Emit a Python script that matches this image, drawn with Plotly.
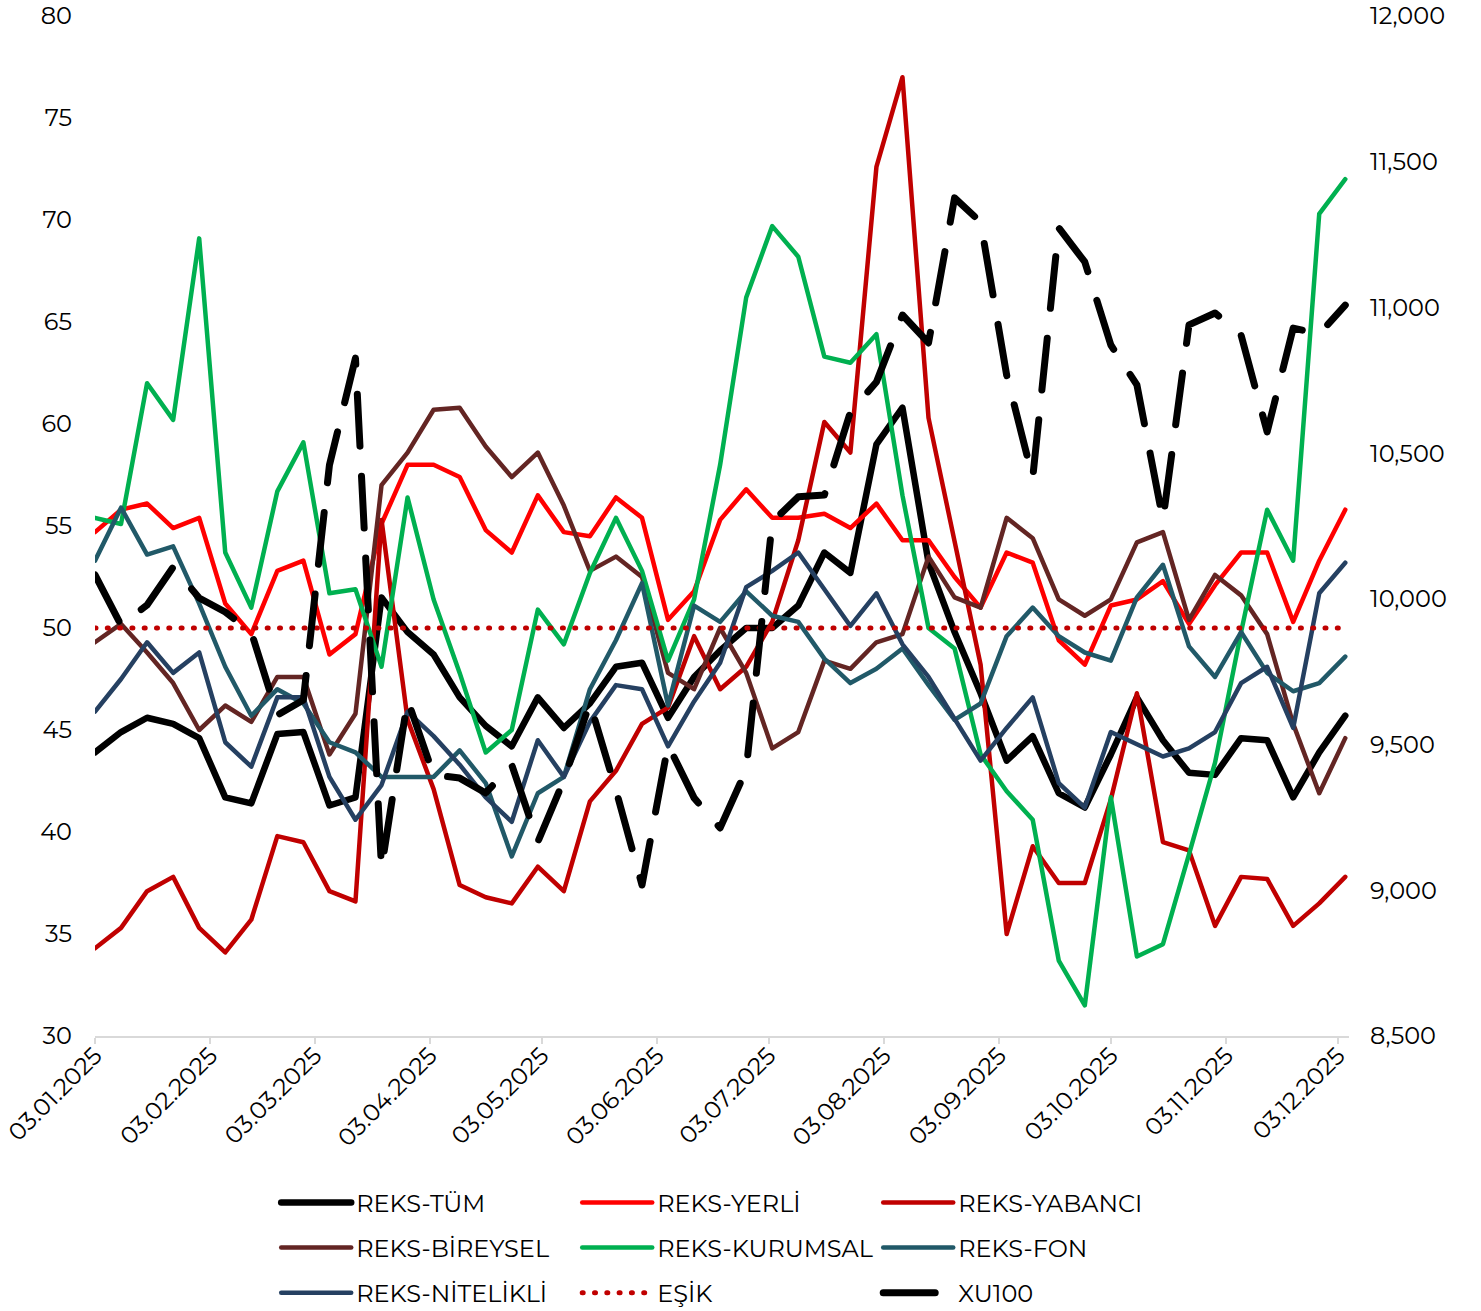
import plotly.graph_objects as go

dates = ["2025-01-03","2025-01-10","2025-01-17","2025-01-24","2025-01-31",
         "2025-02-07","2025-02-14","2025-02-21","2025-02-28",
         "2025-03-07","2025-03-14","2025-03-21","2025-03-28",
         "2025-04-04","2025-04-11","2025-04-18","2025-04-25",
         "2025-05-02","2025-05-09","2025-05-16","2025-05-23","2025-05-30",
         "2025-06-06","2025-06-13","2025-06-20","2025-06-27",
         "2025-07-04","2025-07-11","2025-07-18","2025-07-25",
         "2025-08-01","2025-08-08","2025-08-15","2025-08-22","2025-08-29",
         "2025-09-05","2025-09-12","2025-09-19","2025-09-26",
         "2025-10-03","2025-10-10","2025-10-17","2025-10-24","2025-10-31",
         "2025-11-07","2025-11-14","2025-11-21","2025-11-28",
         "2025-12-05"]

reks_tum = [43.9,44.9,45.6,45.3,44.6,41.7,41.4,44.8,44.9,41.3,41.7,51.5,49.8,48.7,46.6,45.2,44.2,
            46.6,45.1,46.3,48.1,48.3,45.6,47.6,48.9,50.0,50.0,51.1,53.7,52.7,59.0,60.8,53.2,
            49.8,46.8,43.5,44.7,41.9,41.2,43.8,46.6,44.5,42.9,42.8,44.6,44.5,41.7,43.9,45.7]
reks_yerli = [54.7,55.8,56.1,54.9,55.4,51.2,49.7,52.8,53.3,48.7,49.7,55.1,58.0,58.0,57.4,54.8,53.7,
              56.5,54.7,54.5,56.4,55.4,50.4,51.8,55.3,56.8,55.4,55.4,55.6,54.9,56.1,54.3,54.3,
              52.5,51.0,53.7,53.2,49.4,48.2,51.1,51.4,52.3,50.2,52.1,53.7,53.7,50.3,53.3,55.8]
reks_yabanci = [34.3,35.3,37.1,37.8,35.3,34.1,35.7,39.8,39.5,37.1,36.6,55.3,45.5,42.1,37.4,36.8,36.5,
                38.3,37.1,41.5,43.0,45.3,46.1,49.6,47.0,48.1,50.3,54.3,60.1,58.6,72.6,77.0,60.3,
                54.3,48.2,35.0,39.3,37.5,37.5,41.6,46.8,39.5,39.1,35.4,37.8,37.7,35.4,36.5,37.8]
reks_bireysel = [49.3,50.2,48.8,47.3,45.0,46.2,45.4,47.6,47.6,43.8,45.8,57.0,58.6,60.7,60.8,58.9,57.4,
                 58.6,56.0,52.8,53.5,52.5,47.8,47.0,50.0,47.8,44.1,44.9,48.4,48.0,49.3,49.7,53.5,
                 51.5,51.0,55.4,54.4,51.4,50.6,51.4,54.2,54.7,50.4,52.6,51.6,49.7,45.3,41.9,44.6]
reks_kurumsal = [55.4,55.1,62.0,60.2,69.1,53.7,51.0,56.7,59.1,51.7,51.9,48.1,56.4,51.4,47.8,43.9,45.0,
                 50.9,49.2,52.7,55.4,52.8,48.4,51.4,58.0,66.2,69.7,68.2,63.3,63.0,64.4,56.5,50.0,
                 49.0,43.8,42.0,40.6,33.7,31.5,41.7,33.9,34.5,38.9,43.4,49.8,55.8,53.3,70.3,72.0]
reks_fon = [53.3,55.9,53.6,54.0,51.2,48.1,45.7,47.0,46.3,44.4,43.9,42.7,42.7,42.7,44.0,42.4,38.8,
            41.9,42.7,47.0,49.4,52.2,46.2,51.1,50.3,51.8,50.6,50.3,48.5,47.3,48.0,49.0,47.2,
            45.5,46.3,49.6,51.0,49.6,48.8,48.4,51.5,53.1,49.1,47.6,49.8,47.8,46.9,47.3,48.6]
reks_nitelikli = [45.9,47.5,49.3,47.8,48.8,44.4,43.2,46.6,46.6,42.7,40.6,42.3,45.9,44.7,43.3,41.7,40.5,
                  44.5,42.7,45.4,47.2,47.0,44.2,46.4,48.3,52.0,52.8,53.7,51.9,50.1,51.7,49.2,47.6,
                  45.6,43.5,45.1,46.6,42.4,41.2,44.9,44.3,43.7,44.1,44.9,47.3,48.1,45.1,51.7,53.2]
esik_level = 50
xu100 = [10082,9910,9979,10109,10003,9955,9886,9601,9653,10459,10826,9076,9653,9396,9385,9334,9430,
         9166,9378,9643,9344,9018,9499,9317,9214,9413,10264,10350,10356,10641,10744,10974,10878,
         11376,11293,10768,10415,11273,11156,10871,10734,10271,10940,10981,10905,10573,10929,10909,11008]

tick_dates = ["2025-01-03","2025-02-03","2025-03-03","2025-04-03","2025-05-03","2025-06-03",
              "2025-07-03","2025-08-03","2025-09-03","2025-10-03","2025-11-03","2025-12-03"]
tick_text = ["03.01.2025","03.02.2025","03.03.2025","03.04.2025","03.05.2025","03.06.2025",
             "03.07.2025","03.08.2025","03.09.2025","03.10.2025","03.11.2025","03.12.2025"]
left_ticks = [30, 35, 40, 45, 50, 55, 60, 65, 70, 75, 80]
right_ticks = [8500, 9000, 9500, 10000, 10500, 11000, 11500, 12000]

FONT = "Montserrat, 'Open Sans', sans-serif"

series = [
    ("REKS-TÜM", reks_tum, "#000000", 6.5, "solid", "legend"),
    ("REKS-YERLİ", reks_yerli, "#FF0000", 4.5, "solid", "legend"),
    ("REKS-YABANCI", reks_yabanci, "#C00000", 4.5, "solid", "legend"),
    ("REKS-BİREYSEL", reks_bireysel, "#632523", 4.5, "solid", "legend2"),
    ("REKS-KURUMSAL", reks_kurumsal, "#00B050", 4.5, "solid", "legend2"),
    ("REKS-FON", reks_fon, "#215968", 4.5, "solid", "legend2"),
    ("REKS-NİTELİKLİ", reks_nitelikli, "#254061", 4.5, "solid", "legend3"),
]

fig = go.Figure()
for name, vals, col, w, dash, lg in series:
    fig.add_trace(go.Scatter(x=dates, y=vals, name=name, mode="lines",
                             line=dict(color=col, width=w, dash=dash), legend=lg))

fig.add_trace(go.Scatter(x=dates, y=[esik_level] * len(dates), name="EŞİK", mode="lines",
                         line=dict(color="#C00000", width=5, dash="1px,11.3px"), legend="legend3"))
fig.add_trace(go.Scatter(x=dates, y=xu100, name="XU100", mode="lines", yaxis="y2",
                         line=dict(color="#000000", width=7, dash="52px,30px"), legend="legend3"))

legend_common = dict(orientation="h", xanchor="left", yanchor="middle",
                     entrywidth=256, entrywidthmode="pixels",
                     font=dict(family=FONT, size=24, color="#000000"),
                     bgcolor="rgba(0,0,0,0)", itemwidth=30)

LX = 0.1764
fig.update_layout(
    width=1481, height=1311,
    margin=dict(l=95, r=132, t=16, b=275, autoexpand=False),
    paper_bgcolor="white", plot_bgcolor="white",
    font=dict(family=FONT, size=24, color="#000000"),
    showlegend=True,
    legend=dict(x=LX, y=-0.1637, **legend_common),
    legend2=dict(x=LX, y=-0.2078, **legend_common),
    legend3=dict(x=LX, y=-0.252, **legend_common),
    xaxis=dict(type="date", range=["2025-01-03", "2025-12-06"], automargin=False,
               tickvals=tick_dates, ticktext=tick_text, tickangle=-45,
               showgrid=False, zeroline=False,
               showline=True, linecolor="#D9D9D9", linewidth=2,
               ticks="outside", ticklen=6, tickcolor="#D9D9D9", tickwidth=2,
               ticklabelstandoff=-12,
               tickfont=dict(family=FONT, size=24, color="#000000")),
    yaxis=dict(range=[30, 80], tickvals=left_ticks, showgrid=False, zeroline=False,
               showline=False, ticks="", ticklabelstandoff=22, automargin=False,
               tickfont=dict(family=FONT, size=24, color="#000000")),
    yaxis2=dict(range=[8500, 12000], tickvals=right_ticks, tickformat=",d",
                overlaying="y", side="right", showgrid=False, zeroline=False,
                showline=False, ticks="", ticklabelstandoff=20, automargin=False,
                tickfont=dict(family=FONT, size=24, color="#000000")),
)

post = """
document.body.style.margin='0';
document.body.style.padding='0';
var apply = function(){
  document.querySelectorAll('.scatterlayer .js-line').forEach(function(p){
    p.style.strokeLinecap='round'; p.style.strokeLinejoin='round';});
  document.querySelectorAll('.legendlines path').forEach(function(p){
    p.setAttribute('d','M-35,0h70'); p.style.strokeLinecap='round';});
  document.querySelectorAll('.infolayer [clip-path]').forEach(function(e){
    if (e.closest('[class^="legend"]')) { e.removeAttribute('clip-path'); }});
};
apply();
"""

fig.write_html("out.html", post_script=post,
               config={"displayModeBar": False, "staticPlot": True})
